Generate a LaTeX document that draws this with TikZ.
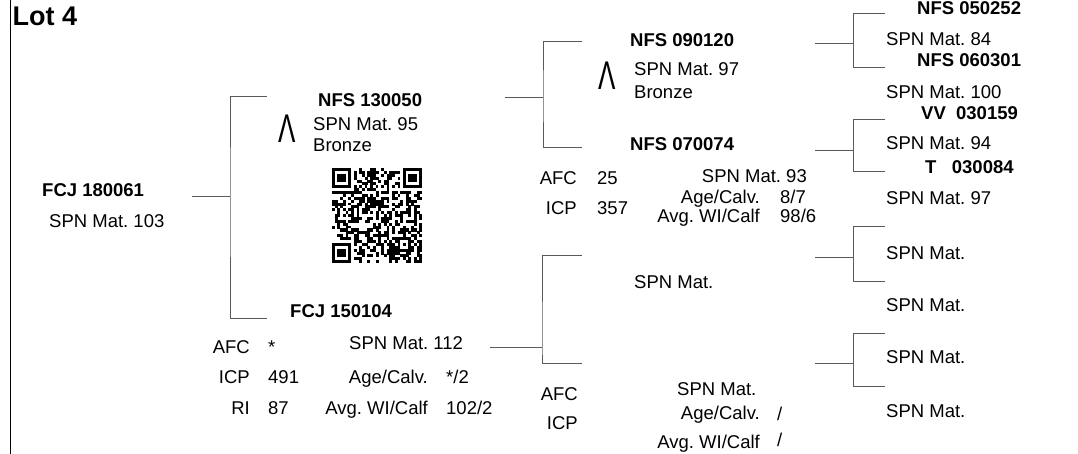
\documentclass[tikz,border=0pt]{standalone}
\usepackage{fontspec}
\setmainfont{Liberation Sans}
\newcommand\pedfont{\fontsize{18.5}{22}\selectfont\frenchspacing}
\tikzset{
  animal/.style={font=\pedfont\bfseries, anchor=base west, inner sep=0pt},
  info/.style={font=\pedfont, anchor=base west, inner sep=0pt},
  infor/.style={font=\pedfont, anchor=base east, inner sep=0pt},
  wedge/.style={font=\fontsize{40}{40}\selectfont, anchor=base, inner sep=0pt},
  link/.style={draw=black!65, line width=1pt},
}
\begin{document}
\begin{tikzpicture}[x=1pt, y=-1pt]
  \useasboundingbox (0,0) rectangle (1078,454);
  \draw[line width=1pt] (10,0) -- (10,454);
  \node[animal, font=\fontsize{27}{30}\selectfont\bfseries] (lot) at (12.5,26) {Lot 4};

  % animal
  \node[animal] (a) at (42,197) {FCJ 180061};
  \node[info] (aspn) at (49,228) {SPN Mat. 103};

  % sire
  \node[animal] (s) at (318,107) {NFS 130050};
  \node[wedge] (swedge) at (287.5,143) {\scalebox{0.65}[1]{Λ}};
  \node[info] (sspn) at (313,131) {SPN Mat. 95};
  \node[info] (sbronze) at (313,152) {Bronze};
  \begin{scope}[shift={(332pt,-168pt)}, x=2.73pt, y=-2.88pt]
    \pgfmathsetseed{11}
    \foreach \i in {0,...,32}{
      \foreach \j in {0,...,32}{
        \pgfmathtruncatemacro\qon{((\i<8 && \j<8) || (\i>24 && \j<8) || (\i<8 && \j>24)) ? 0 : (rnd<0.47)}
        \ifnum\qon=1 \fill (\i,\j) rectangle ++(1.05,1.05); \fi
      }
    }
    \foreach \fx/\fy in {0/0,26/0,0/26}{
      \fill (\fx,\fy) rectangle ++(7,7);
      \fill[white] (\fx+1,\fy+1) rectangle ++(5,5);
      \fill (\fx+2,\fy+2) rectangle ++(3,3);
    }
    \fill (24,24) rectangle ++(5,5);
    \fill[white] (25,25) rectangle ++(3,3);
    \fill (26,26) rectangle ++(1,1);
    \foreach \k in {9,11,...,23}{
      \fill[white] (\k,6) rectangle ++(1,1);
      \fill[white] (6,\k) rectangle ++(1,1);
    }
    \foreach \k in {8,10,...,24}{
      \fill (\k,6) rectangle ++(1,1);
      \fill (6,\k) rectangle ++(1,1);
    }
  \end{scope}

  % dam
  \node[animal] (d) at (290,317) {FCJ 150104};
  \node[infor] (dafc) at (250,353) {AFC};
  \node[info] (dafcv) at (268,353) {*};
  \node[infor] (dicp) at (250,383) {ICP};
  \node[info] (dicpv) at (268,383) {491};
  \node[infor] (dri) at (250,414) {RI};
  \node[info] (driv) at (268,414) {87};
  \node[info] (dspn) at (349,349) {SPN Mat. 112};
  \node[infor] (dage) at (428,383) {Age/Calv.};
  \node[info] (dagev) at (446,383) {*/2};
  \node[infor] (davg) at (428,414) {Avg. WI/Calf};
  \node[info] (davgv) at (446,414) {102/2};

  % sire's parents
  \node[animal] (ss) at (630,47) {NFS 090120};
  \node[wedge] (sswedge) at (607.5,90) {\scalebox{0.65}[1]{Λ}};
  \node[info] (ssspn) at (634,76) {SPN Mat. 97};
  \node[info] (ssbronze) at (634,99) {Bronze};
  \node[animal] (sd) at (630,151) {NFS 070074};
  \node[infor] (sdafc) at (577,185) {AFC};
  \node[info] (sdafcv) at (597,185) {25};
  \node[infor] (sdicp) at (577,215) {ICP};
  \node[info] (sdicpv) at (597,215) {357};
  \node[infor] (sdspn) at (807,183) {SPN Mat. 93};
  \node[infor] (sdage) at (760,204) {Age/Calv.};
  \node[info] (sdagev) at (780,204) {8/7};
  \node[infor] (sdavg) at (760,223) {Avg. WI/Calf};
  \node[info] (sdavgv) at (780,223) {98/6};

  % dam's parents
  \node[info] (dsspn) at (634,288) {SPN Mat.};
  \node[infor] (ddafc) at (578,400) {AFC};
  \node[infor] (ddicp) at (578,429) {ICP};
  \node[info] (ddspn) at (677,395) {SPN Mat.};
  \node[infor] (ddage) at (760,419) {Age/Calv.};
  \node[info] (ddagev) at (777,420) {/};
  \node[infor] (ddavg) at (760,448) {Avg. WI/Calf};
  \node[info] (ddavgv) at (777,446) {/};

  % great-grandparents
  \node[animal] (sss) at (917,15) {NFS 050252};
  \node[info] (sssspn) at (886,46) {SPN Mat. 84};
  \node[animal] (ssd) at (917,67) {NFS 060301};
  \node[info] (ssdspn) at (886,99) {SPN Mat. 100};
  \node[animal] (sds) at (921,120) {VV~~030159};
  \node[info] (sdsspn) at (886,150) {SPN Mat. 94};
  \node[animal] (sdd) at (925,174) {T~~~030084};
  \node[info] (sddspn) at (886,205) {SPN Mat. 97};
  \node[info] (dssspn) at (886,259) {SPN Mat.};
  \node[info] (dsdspn) at (886,311) {SPN Mat.};
  \node[info] (ddsspn) at (886,363) {SPN Mat.};
  \node[info] (dddspn) at (886,417) {SPN Mat.};

  % brackets
  \coordinate (b1in) at (192,197); \coordinate (b1j) at (230,197);
  \coordinate (b1t) at (267,97);   \coordinate (b1b) at (267,318);
  \coordinate (b2in) at (505,98);  \coordinate (b2j) at (543,98);
  \coordinate (b2t) at (582,42);   \coordinate (b2b) at (582,148);
  \coordinate (b3in) at (490,347); \coordinate (b3j) at (542,347);
  \coordinate (b3t) at (582,256);  \coordinate (b3b) at (582,363);
  \coordinate (b4in) at (815,44);  \coordinate (b4j) at (853,44);
  \coordinate (b4t) at (885,14);   \coordinate (b4b) at (885,68);
  \coordinate (b5in) at (815,151); \coordinate (b5j) at (853,151);
  \coordinate (b5t) at (885,120);  \coordinate (b5b) at (885,172);
  \coordinate (b6in) at (815,258); \coordinate (b6j) at (853,258);
  \coordinate (b6t) at (885,227);  \coordinate (b6b) at (885,281);
  \coordinate (b7in) at (815,363); \coordinate (b7j) at (853,363);
  \coordinate (b7t) at (885,333);  \coordinate (b7b) at (885,386);
  \foreach \b in {b1,b2,b3,b4,b5,b6,b7}{
    \draw[link] (\b in) -- (\b j);
    \draw[link] (\b t) -| (\b j) |- (\b b);
  }
\end{tikzpicture}
\end{document}
